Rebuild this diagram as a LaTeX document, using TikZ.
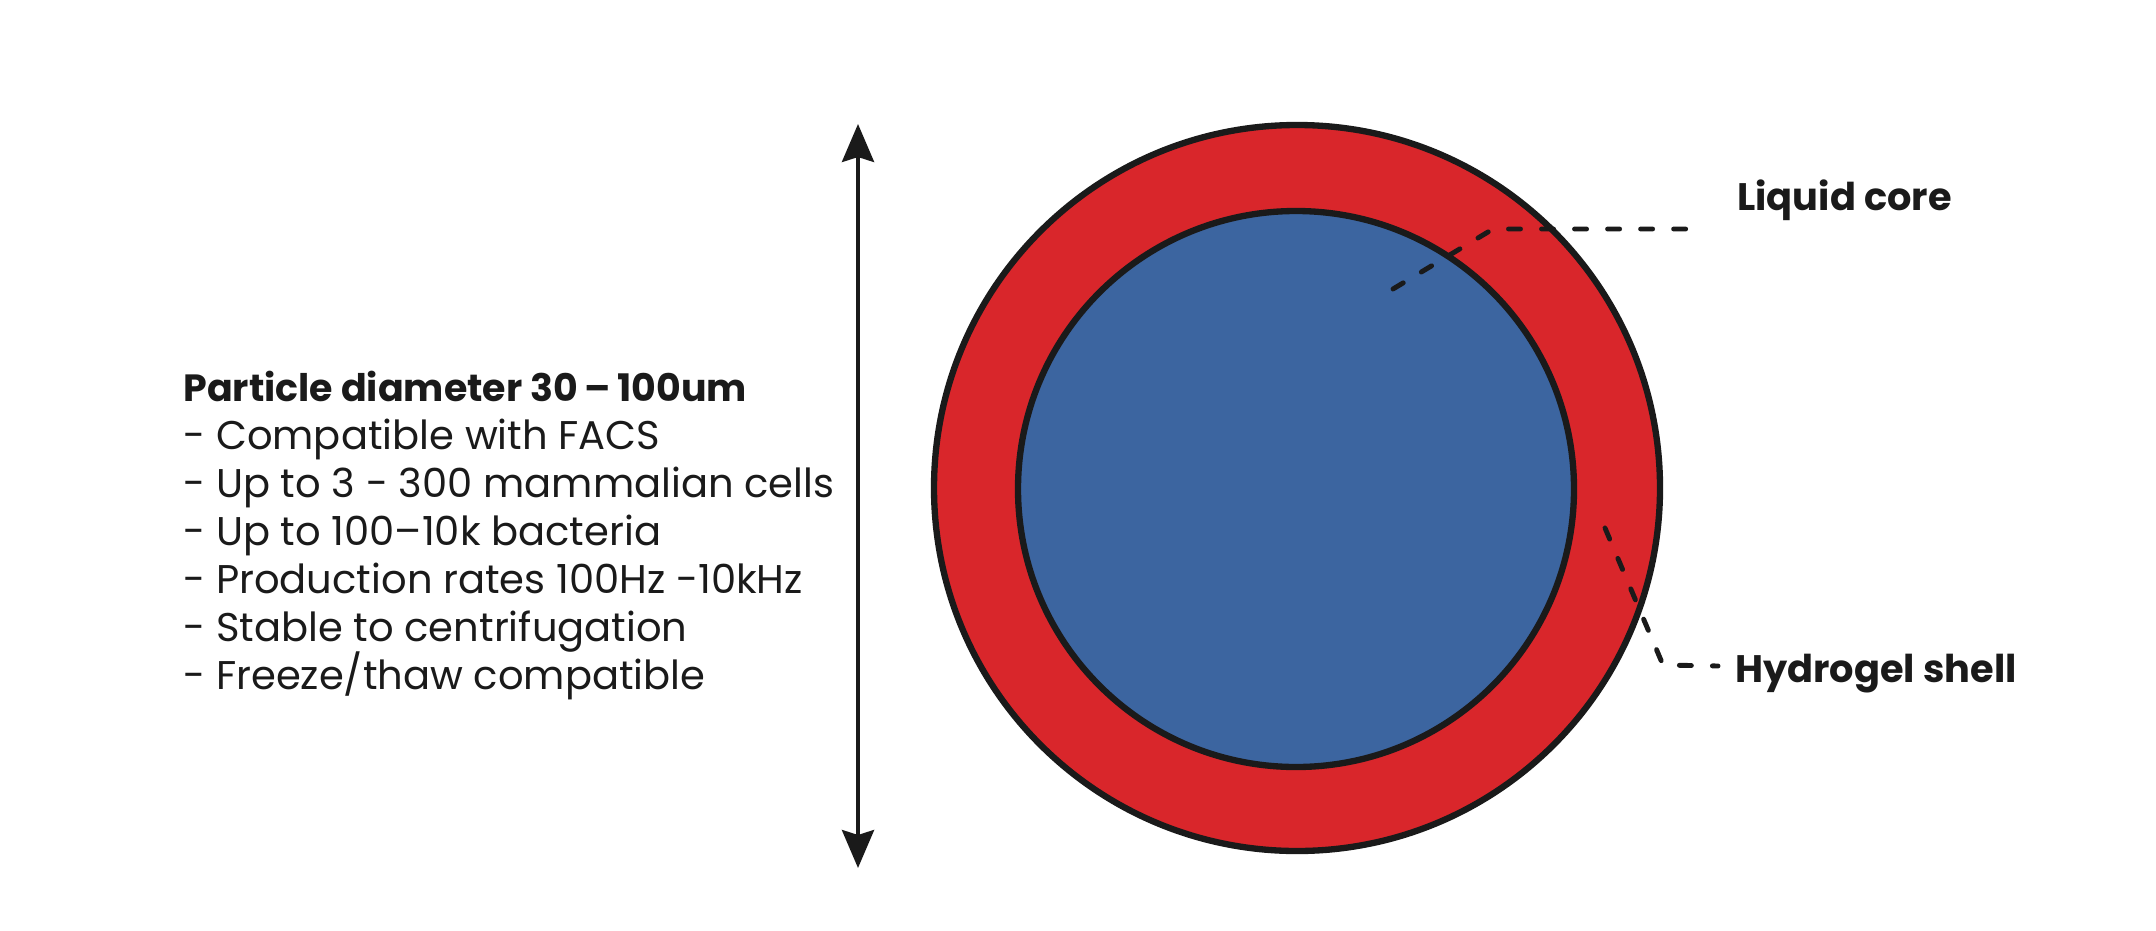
\documentclass[tikz,border=0pt]{standalone}
\usepackage{fontspec}
\setmainfont{Poppins}
\usetikzlibrary{arrows.meta}

\definecolor{shellred}{HTML}{D9262B}
\definecolor{coreblue}{HTML}{3C65A0}
\definecolor{ink}{HTML}{1A1A1A}

\tikzset{
  outline/.style={draw=ink, line width=3.6pt},
  leader/.style={draw=ink, line width=2.8pt, dash pattern=on 6.8pt off 12pt,
    line cap=round, line join=round},
  dimarrow/.style={draw=ink, line width=2.3pt,
    {Stealth[length=21.6pt,width=18.2pt,inset=2.8pt]}-{Stealth[length=21.6pt,width=18.2pt,inset=2.8pt]}},
  listline/.style={anchor=base west, inner sep=0pt, text=ink,
    font=\fontsize{22.8}{26}\selectfont},
  listhead/.style={listline, font=\fontsize{21.6}{26}\selectfont\bfseries},
  partlabel/.style={anchor=base west, inner sep=0pt, text=ink,
    font=\fontsize{21.8}{26}\selectfont\bfseries}
}

\begin{document}
\begin{tikzpicture}[x=0.02cm, y=-0.02cm]
  \useasboundingbox (0,0) rectangle (2156,930);

  % Particula
  \fill[shellred] (1297,488) circle (363);
  \draw[outline] (1297,488) circle (363);
  \fill[coreblue] (1296,489) circle (278);
  \draw[outline] (1296,489) circle (278);

  % Diametro
  \coordinate (dtop) at (858,124);
  \coordinate (dbot) at (858,868);
  \draw[dimarrow] (dtop) -- (dbot);

  % Propiedades
  \node[listhead] (head) at (183,401) {Particle diameter 30\,–\,100um};
  \node[listline] (l1) at (183,449) {- Compatible with FACS};
  \node[listline] (l2) at (183,497) {- Up to 3 - 300 mammalian cells};
  \node[listline] (l3) at (183,545) {- Up to 100–10k bacteria};
  \node[listline] (l4) at (183,593) {- Production rates 100Hz -10kHz};
  \node[listline] (l5) at (183,641) {- Stable to centrifugation};
  \node[listline] (l6) at (183,689) {- Freeze/thaw compatible};

  % Etiquetas
  \node[partlabel] (core) at (1737,210) {Liquid core};
  \node[partlabel] (shell) at (1735,682) {Hydrogel shell};

  \coordinate (coreTip) at (1393,289);
  \coordinate (coreBend) at (1493,229);
  \coordinate (coreEnd) at (1700,229);
  \draw[leader] (coreTip) -- (coreBend) -- (coreEnd);

  \coordinate (shellTip) at (1605,528);
  \coordinate (shellBend) at (1663,665);
  \coordinate (shellEnd) at (1718,666);
  \draw[leader] (shellTip) -- (shellBend) -- (shellEnd);
\end{tikzpicture}
\end{document}
